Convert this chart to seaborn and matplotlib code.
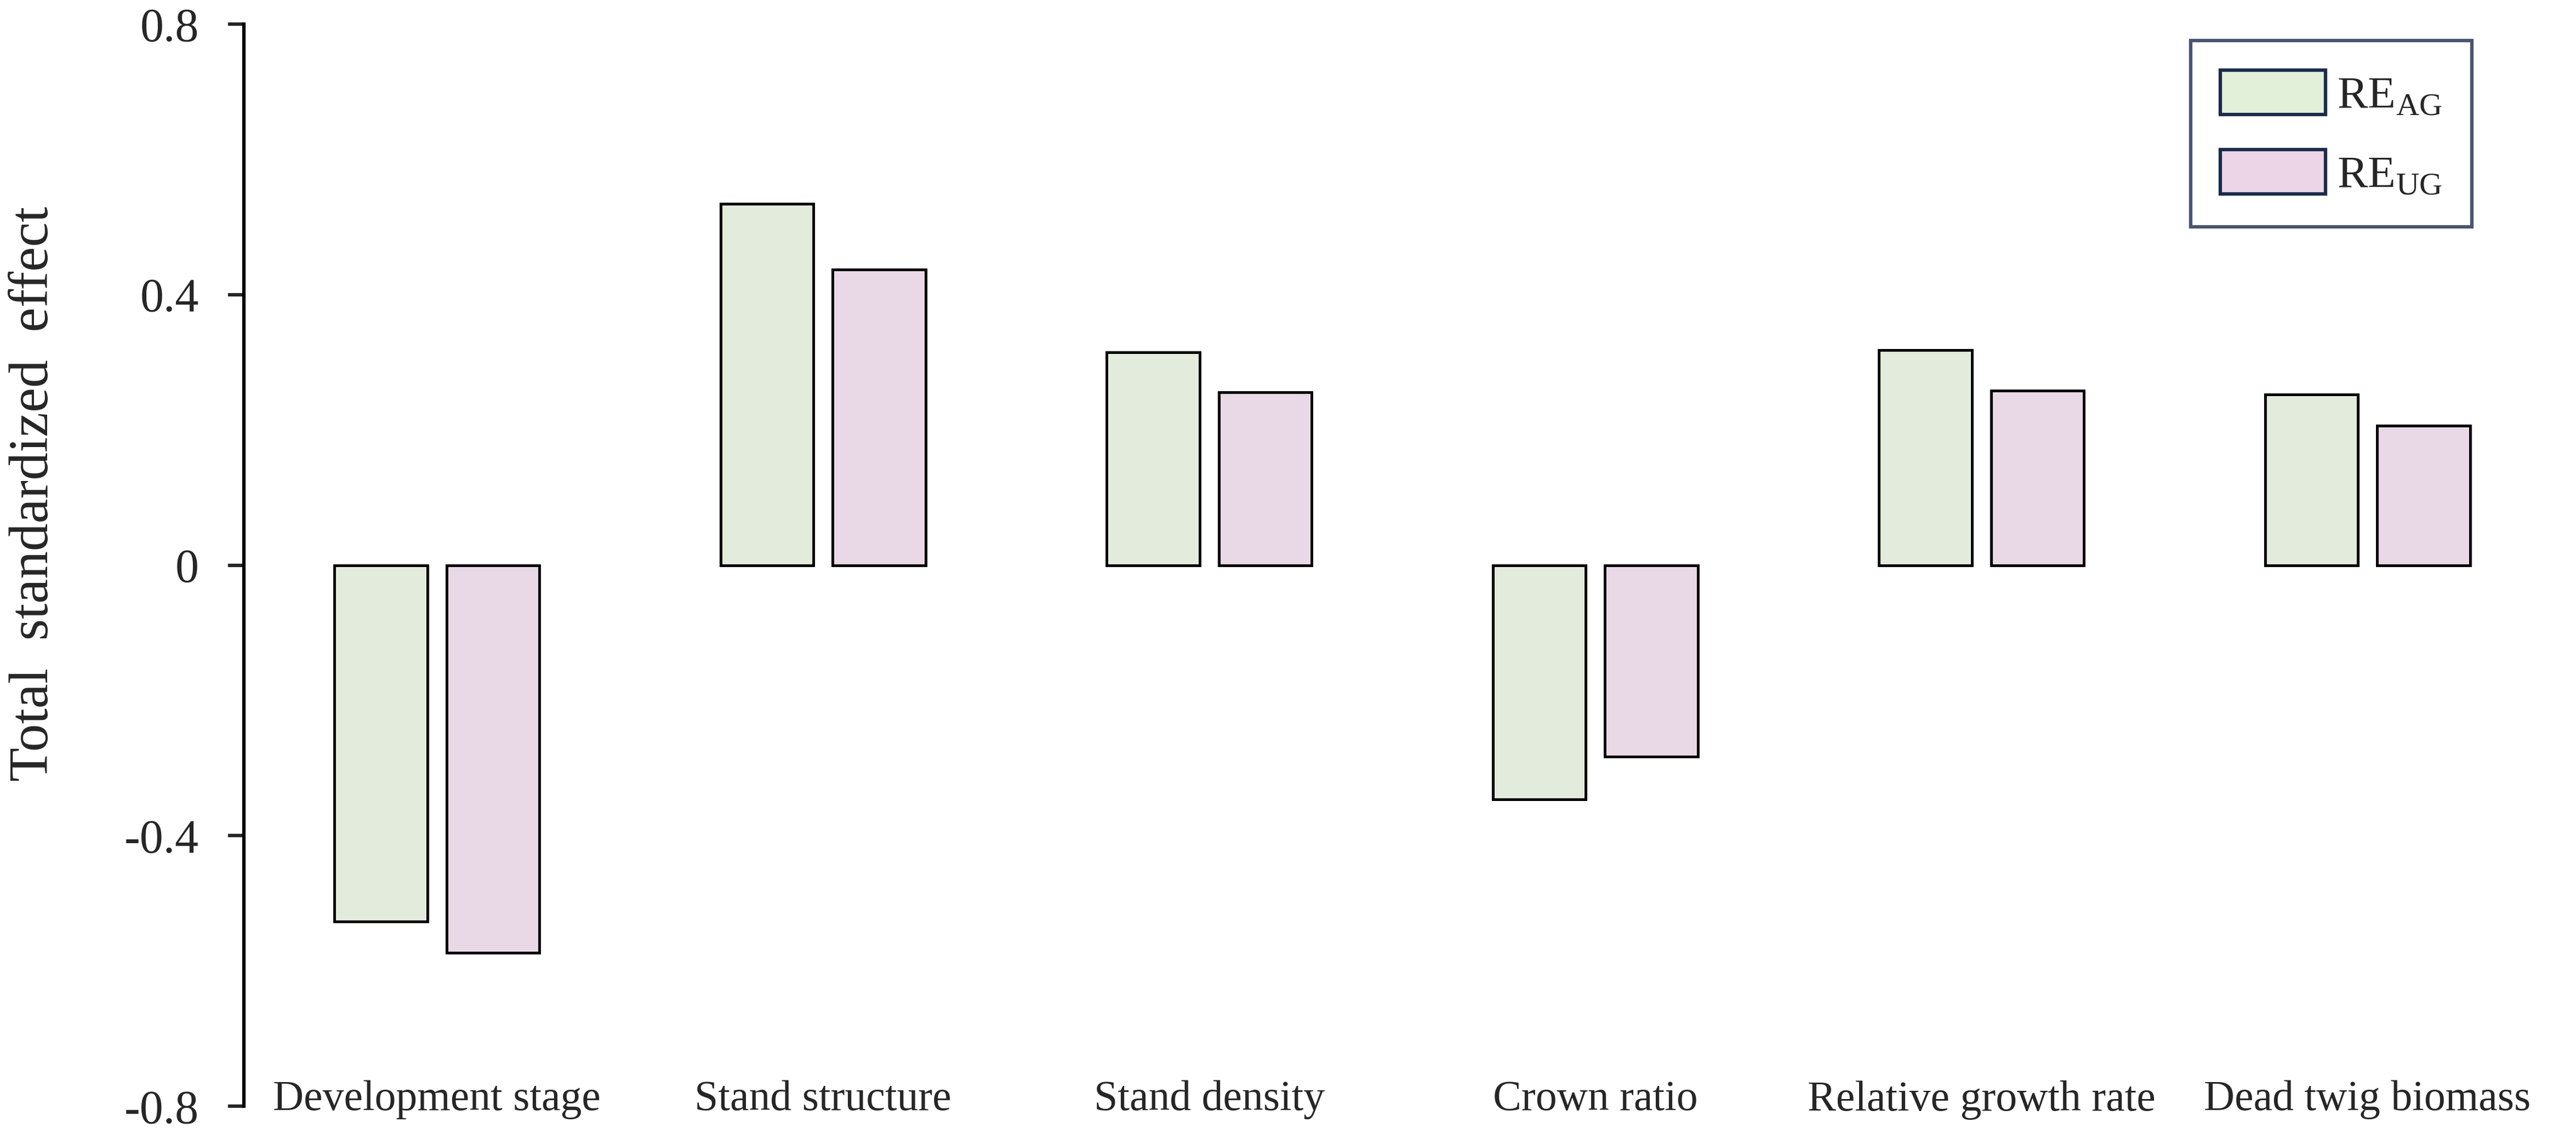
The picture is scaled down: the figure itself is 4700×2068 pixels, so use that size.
import pandas as pd
import matplotlib
matplotlib.use("Agg")
import matplotlib.pyplot as plt
import seaborn as sns
from matplotlib.patches import Patch

# data
categories = ["Development stage", "Stand structure", "Stand density",
              "Crown ratio", "Relative growth rate", "Dead twig biomass"]
re_ag = [-0.527, 0.534, 0.315, -0.346, 0.318, 0.252]
re_ug = [-0.573, 0.437, 0.256, -0.283, 0.258, 0.206]
series = ["RE_AG", "RE_UG"]
y_ticks = [-0.8, -0.4, 0, 0.4, 0.8]
y_tick_labels = ["-0.8", "-0.4", "0", "0.4", "0.8"]

df = pd.DataFrame({
    "category": categories * 2,
    "effect": re_ag + re_ug,
    "series": [series[0]] * len(categories) + [series[1]] * len(categories),
})

sns.set_style("white")
plt.rcParams["font.family"] = ["Liberation Serif", "DejaVu Serif"]
plt.rcParams["mathtext.fontset"] = "custom"
plt.rcParams["mathtext.rm"] = "Liberation Serif"

green = "#e2efd9"
pink = "#ecd5e6"
navy = "#1b2b4b"

fig = plt.figure(figsize=(47, 20.68), dpi=100)
ax = fig.add_axes([0.0947, 0.0237, 0.9053, 0.955])

sns.barplot(data=df, x="category", y="effect", hue="series",
            palette=[green, pink], width=0.58, gap=0.17,
            edgecolor="black", linewidth=3.6, ax=ax, legend=False)

ax.set_ylim(-0.8, 0.8)
ax.set_xlim(-0.5, 5.54)
ax.set_yticks(y_ticks)
ax.set_yticklabels(y_tick_labels)
ax.set_xlabel("")
ax.set_ylabel("Total  standardized  effect", fontsize=73)
ax.yaxis.set_label_coords(-0.079, 0.566)

for s in ["top", "right", "bottom"]:
    ax.spines[s].set_visible(False)
ax.spines["left"].set_linewidth(4.5)
ax.spines["left"].set_color("black")

ax.tick_params(axis="y", direction="out", length=21, width=4.5,
               labelsize=62, pad=38, left=True)
ax.tick_params(axis="x", length=0, labelsize=56, pad=-34)

handles = [Patch(facecolor=green, edgecolor=navy, linewidth=4.5),
           Patch(facecolor=pink, edgecolor=navy, linewidth=4.5)]
leg = ax.legend(handles, [r"RE$_{\mathrm{AG}}$", r"RE$_{\mathrm{UG}}$"],
                loc="upper right", bbox_to_anchor=(0.9553, 0.985),
                fontsize=60, frameon=True, fancybox=False,
                handlelength=2.3, handleheight=1.12, handletextpad=0.25,
                labelspacing=0.7, borderpad=0.65, borderaxespad=0)
leg.get_frame().set_edgecolor(navy)
leg.get_frame().set_linewidth(4.5)

fig.savefig("out.png", dpi=100, facecolor="white")
